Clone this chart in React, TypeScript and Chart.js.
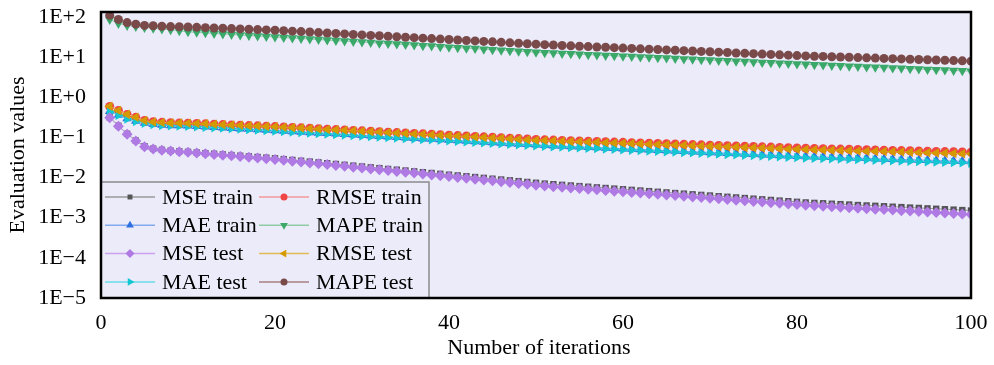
import React, { useEffect, useRef } from 'react';
import { Chart, registerables } from 'chart.js';
import { drawPoint } from 'chart.js/helpers';

Chart.register(...registerables);

const iterations: number[] = Array.from({ length: 100 }, (_, i) => i + 1);

const mseTrain = [0.316, 0.195, 0.123, 0.0832, 0.0603, 0.0525, 0.049, 0.0468, 0.0452, 0.0437,
  0.0421, 0.0406, 0.0391, 0.0377, 0.0363, 0.035, 0.0337, 0.0325, 0.0313, 0.0302,
  0.0288, 0.0275, 0.0262, 0.025, 0.0239, 0.0228, 0.0218, 0.0208, 0.0198, 0.0189,
  0.018, 0.0172, 0.0164, 0.0157, 0.015, 0.0143, 0.0136, 0.013, 0.0124, 0.0118,
  0.0113, 0.0108, 0.0103, 0.00982, 0.00937, 0.00895, 0.00854, 0.00815, 0.00777, 0.00742,
  0.00708, 0.00683, 0.00659, 0.00635, 0.00613, 0.00591, 0.0057, 0.0055, 0.00531, 0.00512,
  0.00494, 0.00476, 0.00459, 0.00443, 0.00427, 0.00412, 0.00398, 0.00383, 0.0037, 0.00357,
  0.00344, 0.00332, 0.0032, 0.00309, 0.00298, 0.00287, 0.00277, 0.00267, 0.00258, 0.00249,
  0.0024, 0.00234, 0.00229, 0.00223, 0.00218, 0.00213, 0.00207, 0.00202, 0.00198, 0.00193,
  0.00188, 0.00184, 0.00179, 0.00175, 0.00171, 0.00167, 0.00163, 0.00159, 0.00155, 0.00151];

const rmseTrain = [0.589, 0.468, 0.372, 0.316, 0.263, 0.245, 0.237, 0.232, 0.229, 0.226,
  0.222, 0.218, 0.2135, 0.209, 0.205, 0.201, 0.197, 0.194, 0.19, 0.186,
  0.1816, 0.1773, 0.173, 0.1688, 0.1647, 0.1607, 0.1568, 0.153, 0.1493, 0.1457,
  0.1421, 0.1387, 0.1353, 0.132, 0.1288, 0.1257, 0.1227, 0.1197, 0.1168, 0.114,
  0.1112, 0.1085, 0.1059, 0.1033, 0.1008, 0.0983, 0.0959, 0.0936, 0.0913, 0.0891,
  0.0871, 0.0857, 0.0843, 0.083, 0.0817, 0.0804, 0.0791, 0.0778, 0.0766, 0.0753,
  0.0741, 0.0729, 0.0718, 0.0706, 0.0695, 0.0684, 0.0673, 0.0662, 0.0652, 0.0641,
  0.0631, 0.0621, 0.0611, 0.0601, 0.0592, 0.0582, 0.0573, 0.0564, 0.0555, 0.0546,
  0.0537, 0.0531, 0.0524, 0.0518, 0.0512, 0.0506, 0.0499, 0.0493, 0.0488, 0.0482,
  0.0475, 0.047, 0.0465, 0.0459, 0.0453, 0.0448, 0.0443, 0.0438, 0.0432, 0.0427];

const maeTrain = [0.446, 0.362, 0.294, 0.256, 0.228, 0.213, 0.2035, 0.199, 0.197, 0.1943,
  0.1893, 0.1842, 0.1793, 0.1746, 0.17, 0.1655, 0.1611, 0.1569, 0.1527, 0.1486,
  0.1446, 0.1407, 0.1369, 0.1332, 0.1296, 0.1261, 0.1227, 0.1194, 0.1161, 0.113,
  0.11, 0.107, 0.104, 0.1013, 0.0985, 0.0959, 0.0932, 0.0908, 0.0883, 0.0859,
  0.0836, 0.0814, 0.0791, 0.077, 0.0749, 0.0729, 0.071, 0.069, 0.0671, 0.0653,
  0.0636, 0.0622, 0.0608, 0.0596, 0.0583, 0.0571, 0.0558, 0.0547, 0.0535, 0.0524,
  0.0512, 0.0502, 0.0491, 0.0481, 0.047, 0.0461, 0.0451, 0.0441, 0.0432, 0.0423,
  0.0414, 0.0405, 0.0396, 0.0388, 0.0379, 0.0371, 0.0364, 0.0356, 0.0348, 0.0341,
  0.0334, 0.0329, 0.0323, 0.0319, 0.0314, 0.031, 0.0305, 0.0301, 0.0296, 0.0291,
  0.0287, 0.0283, 0.0279, 0.0275, 0.0271, 0.0267, 0.0262, 0.0258, 0.0255, 0.0251];

const mapeTrain = [87.1, 69.2, 61.7, 57.5, 55.0, 52.5, 50.1, 47.9, 45.2, 42.7,
  41.4, 40.2, 39.0, 37.8, 36.7, 35.6, 34.6, 33.6, 32.6, 31.6,
  30.7, 29.9, 29.0, 28.2, 27.4, 26.6, 25.8, 25.1, 24.4, 23.7,
  23.0, 22.3, 21.7, 21.1, 20.5, 19.9, 19.3, 18.8, 18.2, 17.7,
  17.2, 16.7, 16.3, 15.8, 15.3, 14.9, 14.5, 14.1, 13.6, 13.3,
  12.9, 12.6, 12.3, 12.1, 11.8, 11.5, 11.3, 11.0, 10.8, 10.5,
  10.3, 10.1, 9.87, 9.64, 9.44, 9.23, 9.02, 8.83, 8.63, 8.43,
  8.26, 8.07, 7.89, 7.73, 7.55, 7.38, 7.23, 7.06, 6.9, 6.76,
  6.61, 6.47, 6.34, 6.21, 6.08, 5.96, 5.83, 5.71, 5.6, 5.48,
  5.38, 5.27, 5.16, 5.06, 4.95, 4.85, 4.75, 4.66, 4.56, 4.47];

const mseTest = [0.309, 0.191, 0.12, 0.0813, 0.0589, 0.0513, 0.0479, 0.0457, 0.0442, 0.0427,
  0.0409, 0.0393, 0.0377, 0.0361, 0.0347, 0.0333, 0.0319, 0.0306, 0.0294, 0.0282,
  0.0268, 0.0255, 0.0243, 0.0232, 0.0221, 0.021, 0.02, 0.019, 0.0181, 0.0172,
  0.0164, 0.0156, 0.0149, 0.0142, 0.0135, 0.0129, 0.0122, 0.0116, 0.0111, 0.0106,
  0.0101, 0.00958, 0.00912, 0.00868, 0.00827, 0.00787, 0.00749, 0.00714, 0.0068, 0.00647,
  0.00617, 0.00594, 0.00573, 0.00552, 0.00532, 0.00513, 0.00494, 0.00476, 0.00459, 0.00443,
  0.00427, 0.00411, 0.00396, 0.00382, 0.00368, 0.00355, 0.00342, 0.0033, 0.00318, 0.00306,
  0.00295, 0.00284, 0.00274, 0.00264, 0.00255, 0.00245, 0.00237, 0.00228, 0.0022, 0.00212,
  0.00204, 0.00199, 0.00193, 0.00188, 0.00183, 0.00178, 0.00173, 0.00168, 0.00163, 0.00159,
  0.00155, 0.0015, 0.00146, 0.00142, 0.00138, 0.00134, 0.00131, 0.00127, 0.00124, 0.0012];

const rmseTest = [0.6, 0.47, 0.375, 0.318, 0.262, 0.243, 0.235, 0.23, 0.227, 0.224,
  0.222, 0.2176, 0.2129, 0.2082, 0.204, 0.1998, 0.1956, 0.1924, 0.1883, 0.1841,
  0.1796, 0.1752, 0.1708, 0.1664, 0.1622, 0.1581, 0.1541, 0.1502, 0.1465, 0.1428,
  0.1391, 0.1356, 0.1322, 0.1288, 0.1256, 0.1224, 0.1194, 0.1163, 0.1134, 0.1106,
  0.1078, 0.105, 0.1024, 0.0998, 0.0973, 0.0948, 0.0924, 0.09, 0.0877, 0.0855,
  0.0835, 0.0821, 0.0807, 0.0793, 0.078, 0.0767, 0.0754, 0.0741, 0.0728, 0.0715,
  0.0703, 0.0691, 0.068, 0.0668, 0.0657, 0.0646, 0.0635, 0.0624, 0.0614, 0.0603,
  0.0593, 0.0583, 0.0573, 0.0563, 0.0554, 0.0544, 0.0535, 0.0526, 0.0517, 0.0508,
  0.0499, 0.0493, 0.0486, 0.048, 0.0474, 0.0468, 0.0461, 0.0455, 0.0449, 0.0443,
  0.0437, 0.0431, 0.0426, 0.042, 0.0414, 0.0409, 0.0404, 0.0399, 0.0394, 0.0389];

const maeTest = [0.437, 0.355, 0.288, 0.251, 0.224, 0.209, 0.1995, 0.195, 0.193, 0.1905,
  0.1854, 0.1803, 0.1754, 0.1706, 0.166, 0.1614, 0.157, 0.1528, 0.1486, 0.1445,
  0.1405, 0.1366, 0.1328, 0.1291, 0.1255, 0.122, 0.1186, 0.1153, 0.1121, 0.109,
  0.106, 0.103, 0.1001, 0.0974, 0.0946, 0.092, 0.0894, 0.087, 0.0845, 0.0822,
  0.0799, 0.0777, 0.0755, 0.0734, 0.0714, 0.0694, 0.0675, 0.0656, 0.0637, 0.062,
  0.0603, 0.0589, 0.0576, 0.0564, 0.0551, 0.0539, 0.0527, 0.0516, 0.0504, 0.0493,
  0.0482, 0.0472, 0.0461, 0.0451, 0.0441, 0.0432, 0.0422, 0.0413, 0.0404, 0.0395,
  0.0386, 0.0378, 0.0369, 0.0361, 0.0353, 0.0345, 0.0338, 0.033, 0.0323, 0.0316,
  0.0309, 0.0304, 0.0299, 0.0295, 0.029, 0.0286, 0.0281, 0.0277, 0.0272, 0.0268,
  0.0264, 0.026, 0.0256, 0.0252, 0.0248, 0.0244, 0.024, 0.0236, 0.0233, 0.0229];

const mapeTest = [110, 87.1, 72.4, 66.1, 61.7, 60.3, 58.9, 57.5, 56.9, 56.2,
  55.2, 54.2, 53.2, 52.2, 51.3, 50.4, 49.4, 48.5, 47.6, 46.8,
  45.5, 44.4, 43.2, 42.1, 40.9, 39.8, 38.8, 37.8, 36.7, 35.8,
  34.8, 34.0, 33.0, 32.1, 31.3, 30.5, 29.7, 28.9, 28.1, 27.4,
  26.7, 26.0, 25.3, 24.6, 24.0, 23.3, 22.7, 22.1, 21.5, 21.0,
  20.4, 20.0, 19.5, 19.1, 18.7, 18.3, 17.9, 17.6, 17.2, 16.8,
  16.5, 16.1, 15.8, 15.5, 15.1, 14.8, 14.5, 14.2, 13.9, 13.6,
  13.3, 13.0, 12.7, 12.4, 12.2, 11.9, 11.7, 11.4, 11.2, 10.9,
  10.7, 10.5, 10.4, 10.2, 10.1, 9.91, 9.75, 9.6, 9.44, 9.29,
  9.16, 9.02, 8.87, 8.73, 8.59, 8.45, 8.34, 8.2, 8.07, 7.94];

const yTicks = [1e-5, 1e-4, 1e-3, 1e-2, 1e-1, 1, 10, 100];
const xTicks = [0, 20, 40, 60, 80, 100];

const seriesNames = ['MSE train', 'RMSE train', 'MAE train', 'MAPE train', 'MSE test', 'RMSE test', 'MAE test', 'MAPE test'];
const seriesData = [mseTrain, rmseTrain, maeTrain, mapeTrain, mseTest, rmseTest, maeTest, mapeTest];

const styles = [
  { point: '#555555', line: '#9a9a9a', style: 'rect', rot: 0, r: 4.5 },
  { point: '#f04545', line: '#f29a9a', style: 'circle', rot: 0, r: 4.5 },
  { point: '#2f6fe0', line: '#84aaf0', style: 'triangle', rot: 0, r: 5.5 },
  { point: '#3aa868', line: '#8fcca6', style: 'triangle', rot: 180, r: 5.5 },
  { point: '#b07ae4', line: '#caa2ee', style: 'rectRot', rot: 0, r: 5.5 },
  { point: '#d49a00', line: '#e2bb55', style: 'triangle', rot: -90, r: 5.5 },
  { point: '#14c6d2', line: '#66dde6', style: 'triangle', rot: 90, r: 5.5 },
  { point: '#7a4a4a', line: '#a88080', style: 'circle', rot: 0, r: 4.5 },
];

const BG = '#ebebfa';
const FONT = '22px "Liberation Serif", "Times New Roman", serif';

export default function App() {
  const ref = useRef<HTMLCanvasElement | null>(null);

  useEffect(() => {
    document.body.style.margin = '0';
    const canvas = ref.current;
    if (!canvas) return;

    const decor = {
      id: 'decor',
      beforeDatasetsDraw(chart: any) {
        const { ctx, chartArea: a } = chart;
        ctx.save();
        ctx.fillStyle = BG;
        ctx.fillRect(a.left, a.top, a.right - a.left, a.bottom - a.top);
        ctx.restore();
      },
      afterDatasetsDraw(chart: any) {
        const { ctx, chartArea: a } = chart;
        ctx.save();
        // legend
        const lx = a.left, ly = a.bottom - 116, lw = 328, lh = 116;
        ctx.fillStyle = BG;
        ctx.fillRect(lx, ly, lw, lh);
        ctx.strokeStyle = '#8c8c8c';
        ctx.lineWidth = 1.5;
        ctx.strokeRect(lx, ly, lw, lh);
        ctx.font = FONT;
        ctx.textBaseline = 'middle';
        ctx.textAlign = 'left';
        for (let i = 0; i < seriesNames.length; i++) {
          const row = Math.floor(i / 2), col = i % 2;
          const y = ly + 15 + row * 28.3;
          const x0 = lx + 4 + col * 154;
          const s = styles[i];
          ctx.strokeStyle = s.line;
          ctx.lineWidth = 1.5;
          ctx.beginPath();
          ctx.moveTo(x0, y);
          ctx.lineTo(x0 + 50, y);
          ctx.stroke();
          ctx.fillStyle = s.point;
          ctx.strokeStyle = s.point;
          drawPoint(ctx, { pointStyle: s.style, rotation: s.rot, radius: s.r - 1, borderWidth: 0 }, x0 + 25, y);
          ctx.fillStyle = '#000';
          ctx.fillText(seriesNames[i], x0 + 57, y + 1);
        }
        // frame
        ctx.strokeStyle = '#000';
        ctx.lineWidth = 2.5;
        ctx.strokeRect(a.left, a.top, a.right - a.left, a.bottom - a.top);
        // axis titles
        ctx.fillStyle = '#000';
        ctx.font = FONT;
        ctx.textAlign = 'center';
        ctx.textBaseline = 'middle';
        ctx.fillText('Number of iterations', (a.left + a.right) / 2 + 3, 348);
        ctx.translate(18.5, (a.top + a.bottom) / 2);
        ctx.rotate(-Math.PI / 2);
        ctx.fillText('Evaluation values', 0, 0);
        ctx.restore();
      },
    };

    const chart = new Chart(canvas, {
      type: 'line',
      data: {
        datasets: seriesData.map((arr, i) => ({
          label: seriesNames[i],
          data: iterations.map((x, j) => ({ x, y: arr[j] })),
          borderColor: styles[i].line,
          backgroundColor: styles[i].point,
          pointBackgroundColor: styles[i].point,
          pointBorderColor: styles[i].point,
          pointBorderWidth: 0,
          pointStyle: styles[i].style as any,
          pointRotation: styles[i].rot,
          pointRadius: styles[i].r,
          borderWidth: 1,
          fill: false,
          tension: 0,
          order: i < 4 ? 2 : 1,
        })),
      },
      options: {
        animation: false,
        responsive: false,
        devicePixelRatio: 1,
        layout: { padding: { top: 12, right: 23, left: 0, bottom: 0 } },
        plugins: { legend: { display: false }, tooltip: { enabled: false } },
        scales: {
          x: {
            type: 'linear',
            min: 0,
            max: 100,
            border: { display: false },
            grid: { display: false, drawTicks: false },
            afterBuildTicks: (s: any) => { s.ticks = xTicks.map((v) => ({ value: v })); },
            afterFit: (s: any) => { s.height = 67; s.paddingLeft = 0; s.paddingRight = 0; },
            ticks: { padding: 12, color: '#000', font: { family: '"Liberation Serif", serif', size: 22 }, maxRotation: 0 },
          },
          y: {
            type: 'logarithmic',
            min: 1e-5,
            max: 133,
            border: { display: false },
            grid: { display: false, drawTicks: false },
            afterBuildTicks: (s: any) => { s.ticks = yTicks.map((v) => ({ value: v })); },
            afterFit: (s: any) => { s.width = 101; s.paddingTop = 0; s.paddingBottom = 0; },
            ticks: {
              padding: 15,
              color: '#000',
              font: { family: '"Liberation Serif", serif', size: 22 },
              callback: (v: any) => {
                const e = Math.round(Math.log10(Number(v)));
                return '1E' + (e >= 0 ? '+' + e : '\u2212' + -e);
              },
            },
          },
        },
      },
      plugins: [decor],
    });
    return () => chart.destroy();
  }, []);

  return (
    <div style={{ width: 994, height: 365, background: '#fff' }}>
      <canvas ref={ref} width={994} height={365} style={{ display: 'block', width: 994, height: 365 }} />
    </div>
  );
}
